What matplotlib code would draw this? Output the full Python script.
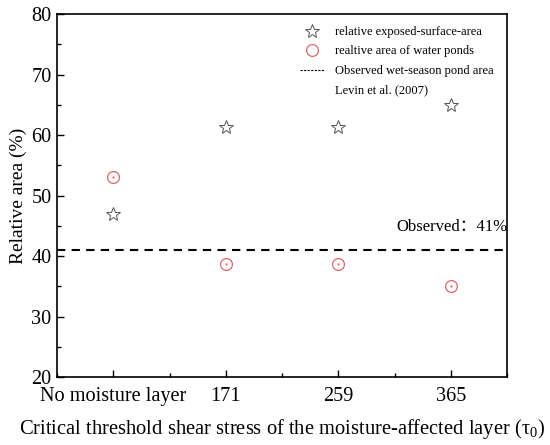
import numpy as np
import matplotlib.pyplot as plt
from matplotlib.ticker import MultipleLocator

plt.rcParams['font.family'] = ['Liberation Serif', 'Noto Sans CJK SC', 'DejaVu Sans']
plt.rcParams['mathtext.fontset'] = 'stix'

categories = ['No moisture layer', '171', '259', '365']
exposed = [47.0, 61.4, 61.3, 65.0]
ponds = [53.1, 38.6, 38.7, 35.0]
observed = 41.0

x = np.arange(1, len(categories) + 1)

fig = plt.figure(figsize=(5.5, 4.45), dpi=100)
ax = fig.add_axes([0.1036, 0.1528, 0.8184, 0.8157])

ax.plot(x, exposed, linestyle='none', marker='*', markersize=10, markerfacecolor='none',
        markeredgecolor='#555555', markeredgewidth=0.7, label='relative exposed-surface-area')
ax.plot(x, ponds, linestyle='none', marker='o', markersize=8.5, markerfacecolor='none',
        markeredgecolor='#e06666', markeredgewidth=0.9, label='realtive area of water ponds')
ax.plot(x, ponds, linestyle='none', marker='.', markersize=1.2, color='#e06666')
ax.axhline(observed, color='black', linestyle=(0, (4, 3)), linewidth=1.5)
# legend entries (dashed handle is finer than the plotted line)
ax.plot([], [], color='black', linestyle=(0, (2, 1.2)), linewidth=0.8,
        label='Observed wet-season pond area')
ax.plot([], [], color='none', label='Levin et al. (2007)')

ax.text(4.5, 43.4, 'Observed：41%', ha='right', va='bottom', fontsize=12)

ax.set_xlim(0.5, 4.5)
ax.set_ylim(20, 80)
ax.set_xticks(x)
ax.set_xticklabels(categories)
ax.xaxis.set_minor_locator(MultipleLocator(0.5))
ax.yaxis.set_major_locator(MultipleLocator(10))
ax.yaxis.set_minor_locator(MultipleLocator(5))
ax.tick_params(which='both', direction='in', labelsize=14.6, width=1.0)
ax.tick_params(which='major', length=5)
ax.tick_params(which='minor', length=3)
ax.tick_params(axis='x', pad=7)
ax.tick_params(axis='y', pad=4)
for s in ax.spines.values():
    s.set_linewidth(1.2)

ax.set_ylabel('Relative area (%)', fontsize=14, labelpad=3)
ax.set_xlabel(r'Critical threshold shear stress of the moisture-affected layer ($\mathregular{\tau_0}$)',
              fontsize=14.8, labelpad=8)

ax.legend(loc='upper left', bbox_to_anchor=(0.528, 0.981), borderaxespad=0, frameon=False,
          fontsize=9, handlelength=2.0, handletextpad=0.8, labelspacing=0.6)

fig.savefig('out.png', dpi=100)
